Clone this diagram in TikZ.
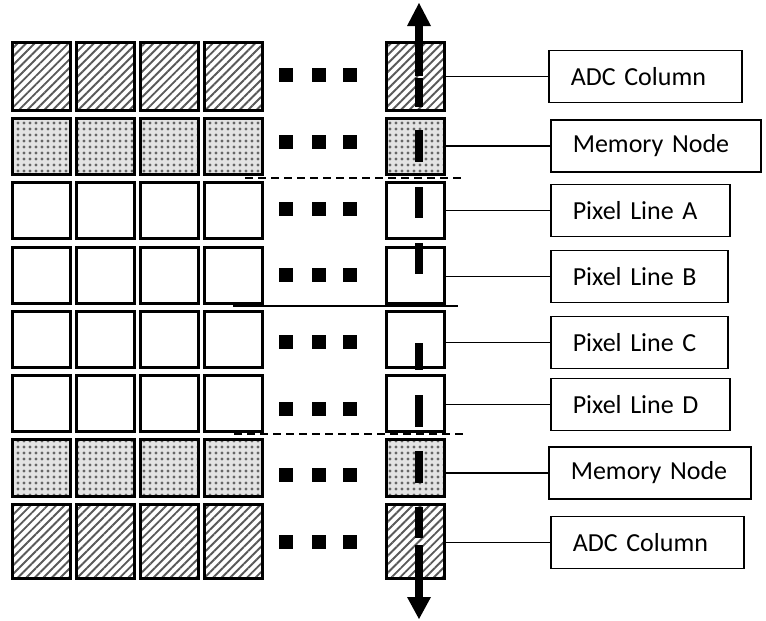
\documentclass[tikz,border=0pt]{standalone}
\usepackage{fontspec}
\setmainfont{Carlito}
\usetikzlibrary{patterns.meta}
\begin{document}
\begin{tikzpicture}[x=1pt,y=-1pt,
 cellbox/.style={draw=black,line width=2.2pt,inner sep=0pt,minimum width=58pt},
 adc/.style={cellbox, preaction={fill=white}, pattern={Lines[angle=45,distance=6pt,line width=1.9pt]}, pattern color=black!65},
 mem/.style={cellbox, preaction={fill=gray!22}, pattern={Dots[distance=6pt,radius=1.6pt]}, pattern color=black!60},
 pix/.style={cellbox, fill=white},
 lbl/.style={draw, line width=1.6pt, minimum height=52pt, inner xsep=22pt, inner ysep=0pt, align=left, anchor=west, font=\fontsize{26}{30}\selectfont},
 conn/.style={line width=1.5pt},
 dotsq/.style={fill=black, minimum size=14pt, inner sep=0pt},
 sepline/.style={line width=1.6pt},
 sepdash/.style={line width=1.6pt, dash pattern=on 8pt off 5pt},
 bar/.style={fill=black},
]
\useasboundingbox (0,0) rectangle (766,621);

% cells
\foreach \r/\t/\b/\sty in {1/42/111/adc, 2/118/175/mem, 3/182/239/pix, 4/247/304/pix, 5/311/368/pix, 6/375/432/pix, 7/439/497/mem, 8/504/579/adc}{
  \pgfmathsetmacro\cy{(\t+\b)/2}
  \pgfmathsetmacro\h{\b-\t-1}
  \foreach \k/\x in {1/41.5, 2/105.5, 3/169.5, 4/233.5, 5/415.5}{
    \node[\sty, minimum height=\h pt] (c\r-\k) at (\x,\cy) {};
  }
}

% ellipsis squares
\foreach \r/\y in {1/75, 2/141.5, 3/208.5, 4/275, 5/341.5, 6/408.5, 7/475, 8/541.5}{
  \foreach \x [count=\i] in {286,319,350}{
    \node[dotsq] (d\r-\i) at (\x,\y) {};
  }
}

% separator lines
\coordinate (s1a) at (245,178); \coordinate (s1b) at (463,178);
\coordinate (s2a) at (233,306); \coordinate (s2b) at (458,306);
\coordinate (s3a) at (234,434); \coordinate (s3b) at (465,434);
\draw[sepdash] (s1a) -- (s1b);
\draw[sepline] (s2a) -- (s2b);
\draw[sepdash] (s3a) -- (s3b);

% vertical bus with arrows
\fill[bar] (407,26) -- (419,3) -- (431,26) -- cycle;
\fill[bar] (415,25) rectangle (423,76);
\foreach \a/\b in {78/107, 130/162, 187/218, 243/274, 343/370, 395/427, 451/483, 507/538, 545/598}{
  \fill[bar] (415,\a) rectangle (423,\b);
}
\fill[bar] (407,597) -- (419,619) -- (431,597) -- cycle;

% labels
\node[lbl, text width=149pt] (L1) at (548,76.5) {ADC Column};
\node[lbl, text width=166pt] (L2) at (550,146) {Memory Node};
\node[lbl, text width=135pt] (L3) at (550,210.5) {Pixel Line A};
\node[lbl, text width=133pt] (L4) at (550,276.5) {Pixel Line B};
\node[lbl, text width=133pt] (L5) at (550,342.5) {Pixel Line C};
\node[lbl, text width=135pt] (L6) at (550,404.5) {Pixel Line D};
\node[lbl, text width=158pt] (L7) at (548,473) {Memory Node};
\node[lbl, text width=149pt] (L8) at (550,542.5) {ADC Column};

% connectors
\foreach \r in {1,...,8}{
  \draw[conn] (c\r-5.east |- L\r.west) -- (L\r.west);
}
\end{tikzpicture}
\end{document}
